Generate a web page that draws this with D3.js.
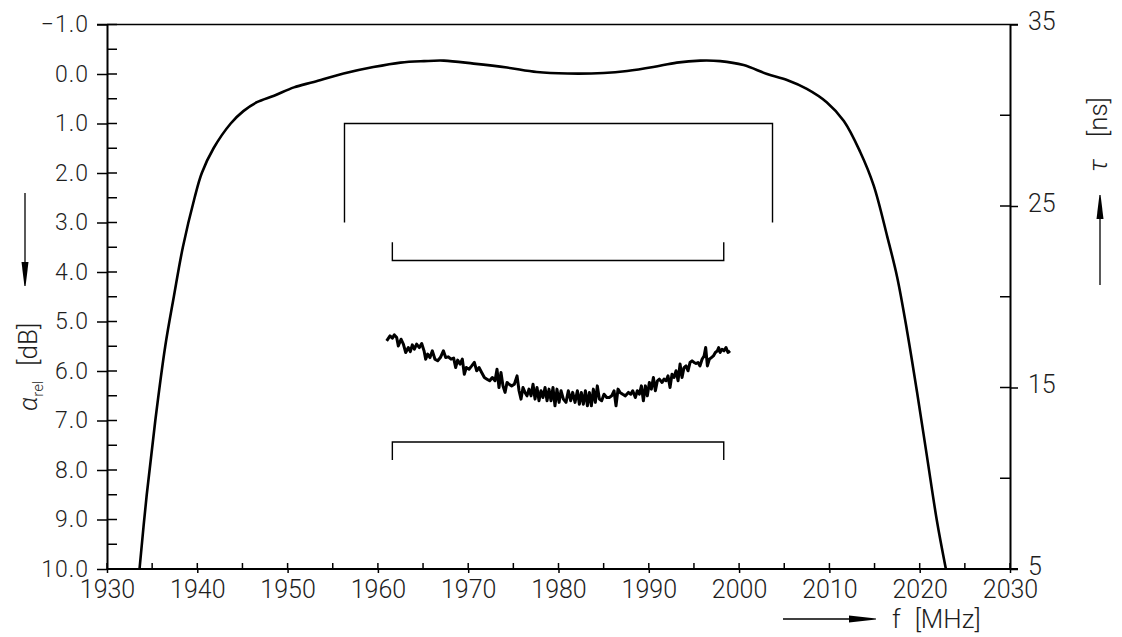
<!DOCTYPE html>
<html>
<head>
<meta charset="utf-8">
<script src="https://cdnjs.cloudflare.com/ajax/libs/d3/7.8.5/d3.min.js"></script>
<style>
  body { margin: 0; background: #fff; }
  svg text { font-family: Roboto, "Liberation Sans", sans-serif; font-weight: 300; fill: #1e1e1e; }
</style>
</head>
<body>
<svg id="chart"></svg>
<script>
// attenuation curve (left axis, dB, inverted)
var lossFreq = [1933.6, 1934.4, 1935.35, 1936.45, 1937.4, 1938.4, 1939.7, 1940.5, 1941.8, 1943.7,
    1945.1, 1946.6, 1948.5, 1950.7, 1952.9, 1956.2, 1959.5, 1962.5, 1965.1, 1967.3,
    1970.6, 1974.3, 1977.6, 1981.0, 1985.0, 1987.6, 1990.5, 1993.1, 1995.7, 1997.9,
    2000.5, 2003.1, 2005.3, 2007.5, 2009.7, 2011.6, 2013.4, 2014.9, 2016.4, 2017.5,
    2018.6, 2019.7, 2020.8, 2021.9, 2022.9];
var lossDb = [10.0, 8.5, 7.0, 5.5, 4.5, 3.5, 2.5, 2.0, 1.5, 1.0,
    0.75, 0.57, 0.44, 0.27, 0.16, -0.01, -0.14, -0.23, -0.26, -0.27,
    -0.21, -0.13, -0.04, -0.01, -0.02, -0.06, -0.14, -0.23, -0.27, -0.26,
    -0.18, 0.0, 0.12, 0.30, 0.57, 0.95, 1.57, 2.25, 3.28, 4.10,
    5.19, 6.42, 7.72, 9.02, 10.0];

// group delay curve (right axis, ns)
var delayFreq = [1960.97, 1961.34, 1961.60, 1961.82, 1962.08, 1962.26, 1962.56, 1962.82, 1963.08, 1963.37,
    1963.59, 1963.81, 1964.04, 1964.29, 1964.59, 1964.85, 1965.11, 1965.29, 1965.51, 1965.77,
    1966.03, 1966.32, 1966.62, 1966.92, 1967.25, 1967.51, 1967.80, 1968.10, 1968.39, 1968.61,
    1968.83, 1969.09, 1969.35, 1969.57, 1969.79, 1970.09, 1970.39, 1970.68, 1970.94, 1971.20,
    1971.49, 1971.79, 1972.08, 1972.38, 1972.67, 1972.97, 1973.19, 1973.41, 1973.63, 1973.85,
    1974.08, 1974.30, 1974.52, 1974.81, 1975.11, 1975.41, 1975.63, 1975.85, 1976.07, 1976.29,
    1976.51, 1976.73, 1976.96, 1977.18, 1977.40, 1977.62, 1977.84, 1978.06, 1978.28, 1978.51,
    1978.73, 1978.95, 1979.17, 1979.39, 1979.61, 1979.83, 1980.06, 1980.28, 1980.54, 1980.83,
    1981.09, 1981.35, 1981.57, 1981.83, 1982.09, 1982.31, 1982.53, 1982.75, 1982.98, 1983.20,
    1983.42, 1983.64, 1983.86, 1984.08, 1984.30, 1984.53, 1984.78, 1985.04, 1985.34, 1985.63,
    1985.89, 1986.15, 1986.37, 1986.59, 1986.81, 1987.11, 1987.41, 1987.74, 1988.00, 1988.22,
    1988.51, 1988.73, 1988.96, 1989.18, 1989.40, 1989.62, 1989.84, 1990.06, 1990.28, 1990.51,
    1990.73, 1990.95, 1991.17, 1991.47, 1991.69, 1991.91, 1992.13, 1992.35, 1992.57, 1992.79,
    1993.02, 1993.24, 1993.46, 1993.68, 1993.90, 1994.12, 1994.34, 1994.57, 1994.79, 1995.01,
    1995.23, 1995.45, 1995.67, 1995.90, 1996.12, 1996.30, 1996.49, 1996.71, 1996.93, 1997.15,
    1997.37, 1997.59, 1997.74, 1997.89, 1998.11, 1998.33, 1998.55, 1998.77, 1999.00];
var delayNs = [17.57, 17.84, 17.72, 17.90, 17.75, 17.29, 17.66, 17.39, 16.93, 17.20,
    16.98, 17.35, 17.11, 17.39, 17.20, 17.42, 17.02, 16.56, 16.84, 16.65,
    17.02, 16.56, 16.47, 16.65, 17.02, 16.65, 16.69, 16.56, 16.62, 16.10,
    16.51, 16.29, 16.56, 15.73, 16.10, 16.01, 16.19, 16.38, 15.92, 16.10,
    15.83, 15.55, 15.46, 15.37, 15.55, 15.37, 16.01, 15.00, 15.83, 15.09,
    14.73, 15.28, 15.18, 15.09, 15.18, 15.64, 14.82, 14.36, 15.00, 14.73,
    14.54, 14.91, 14.54, 15.18, 14.36, 15.00, 14.27, 14.82, 14.45, 15.00,
    14.27, 14.91, 14.27, 15.00, 13.99, 14.91, 14.18, 14.82, 14.36, 14.18,
    14.82, 14.27, 14.73, 14.18, 14.82, 14.08, 14.73, 14.08, 14.82, 13.99,
    14.73, 13.99, 14.91, 14.18, 15.09, 14.36, 14.27, 14.63, 14.45, 14.45,
    14.54, 14.82, 13.99, 14.91, 14.73, 14.63, 14.54, 14.73, 14.63, 14.82,
    14.45, 14.82, 14.63, 15.09, 14.27, 15.09, 14.54, 15.28, 14.91, 15.55,
    14.82, 15.37, 15.46, 15.28, 15.46, 15.37, 15.64, 15.00, 15.73, 15.55,
    15.92, 15.37, 16.29, 15.55, 16.10, 16.19, 15.92, 16.38, 16.47, 16.38,
    16.32, 16.38, 16.19, 16.56, 16.74, 17.20, 16.19, 16.56, 16.65, 16.74,
    16.93, 17.02, 17.20, 16.93, 17.11, 17.02, 17.20, 16.93, 17.02];

// tolerance brackets
var lossMaskFreq = [1956.3, 2003.7];
var lossMaskDb = [1.0, 3.0];        // line, leg end
var delayMaskFreq = [1961.6, 1998.3];
var delayUpperNs = [22, 23];        // line, leg end
var delayLowerNs = [12, 11];

// ticks
var freqTicks = [1930, 1940, 1950, 1960, 1970, 1980, 1990, 2000, 2010, 2020, 2030];
var freqMinor = [1935, 1945, 1955, 1965, 1975, 1985, 1995, 2005, 2015, 2025];
var lossTicks = [-1, 0, 1, 2, 3, 4, 5, 6, 7, 8, 9, 10];
var lossMinor = [-0.5, 0.5, 1.5, 2.5, 3.5, 4.5, 5.5, 6.5, 7.5, 8.5, 9.5];
var delayTicks = [5, 15, 25, 35];
var delayMinor = [10, 20, 30];

var width = 1122,
    height = 637;

var plotL = 107, plotR = 1010, plotT = 24.5, plotB = 569;

var x = d3.scaleLinear().domain([1930, 2030]).range([plotL, plotR]);
var yLoss = d3.scaleLinear().domain([-1, 10]).range([plotT, plotB]);
var yDelay = d3.scaleLinear().domain([5, 35]).range([plotB, plotT]);

var svg = d3.select("#chart")
    .attr("width", width)
    .attr("height", height);

svg.append("defs").append("clipPath")
    .attr("id", "plot")
    .append("rect")
    .attr("x", plotL).attr("y", plotT)
    .attr("width", plotR - plotL).attr("height", plotB - plotT);

// frame lines
svg.append("line")
    .attr("x1", plotL - 10).attr("x2", plotR + 8)
    .attr("y1", plotT).attr("y2", plotT)
    .attr("stroke", "#000").attr("stroke-width", 1.6);
svg.append("line")
    .attr("x1", plotL).attr("x2", plotR + 8)
    .attr("y1", plotB).attr("y2", plotB)
    .attr("stroke", "#000").attr("stroke-width", 2);

// left axis
var leftAxis = svg.append("g")
    .attr("transform", "translate(" + plotL + ",0)")
    .call(d3.axisLeft(yLoss)
        .tickValues(lossTicks)
        .tickSize(10)
        .tickSizeOuter(0)
        .tickPadding(8)
        .tickFormat(function(d) {
            return (d < 0 ? "\u2212" : "") + Math.abs(d).toFixed(1);
        }));
leftAxis.select(".domain").attr("stroke-width", 2);
leftAxis.selectAll(".tick line").attr("stroke-width", 1.5);
leftAxis.selectAll("text")
    .style("font-size", "23px").style("letter-spacing", "1px").style("font-family", null);

svg.append("g").selectAll("line")
    .data(lossTicks.concat(lossMinor))
    .enter().append("line")
    .attr("x1", plotL).attr("x2", plotL + 10)
    .attr("y1", function(d) { return yLoss(d); })
    .attr("y2", function(d) { return yLoss(d); })
    .attr("stroke", "#000").attr("stroke-width", 1.5);

// bottom axis
var bottomAxis = svg.append("g")
    .attr("transform", "translate(0," + plotB + ")")
    .call(d3.axisBottom(x)
        .tickValues(freqTicks)
        .tickSize(4)
        .tickSizeOuter(0)
        .tickPadding(7)
        .tickFormat(d3.format("d")));
bottomAxis.select(".domain").remove();
bottomAxis.selectAll(".tick line").attr("stroke-width", 1.5);
bottomAxis.selectAll("text").style("font-size", "25px").style("font-family", null);

svg.append("g").selectAll("line")
    .data(freqTicks.concat(freqMinor))
    .enter().append("line")
    .attr("x1", function(d) { return x(d); })
    .attr("x2", function(d) { return x(d); })
    .attr("y1", plotB - 6).attr("y2", plotB)
    .attr("stroke", "#000").attr("stroke-width", 1.5);

// right axis
var rightAxis = svg.append("g")
    .attr("transform", "translate(" + plotR + ",0)")
    .call(d3.axisRight(yDelay)
        .tickValues(delayTicks)
        .tickSize(8)
        .tickSizeOuter(0)
        .tickPadding(10)
        .tickFormat(d3.format("d")));
rightAxis.select(".domain").attr("stroke-width", 2);
rightAxis.selectAll(".tick line").attr("stroke-width", 1.5);
rightAxis.selectAll("text")
    .attr("y", -3)
    .style("font-size", "25px").style("font-family", null);

svg.append("g").selectAll("line")
    .data([15, 25].concat(delayMinor))
    .enter().append("line")
    .attr("x1", plotR - 10).attr("x2", plotR)
    .attr("y1", function(d) { return yDelay(d); })
    .attr("y2", function(d) { return yDelay(d); })
    .attr("stroke", "#000").attr("stroke-width", 1.5);

// tolerance brackets
var bracket = d3.line();
svg.append("path")
    .attr("d", bracket([
        [x(lossMaskFreq[0]), yLoss(lossMaskDb[1])],
        [x(lossMaskFreq[0]), yLoss(lossMaskDb[0])],
        [x(lossMaskFreq[1]), yLoss(lossMaskDb[0])],
        [x(lossMaskFreq[1]), yLoss(lossMaskDb[1])]]))
    .attr("fill", "none").attr("stroke", "#000").attr("stroke-width", 1.4);

[delayUpperNs, delayLowerNs].forEach(function(m) {
    svg.append("path")
        .attr("d", bracket([
            [x(delayMaskFreq[0]), yDelay(m[1])],
            [x(delayMaskFreq[0]), yDelay(m[0])],
            [x(delayMaskFreq[1]), yDelay(m[0])],
            [x(delayMaskFreq[1]), yDelay(m[1])]]))
        .attr("fill", "none").attr("stroke", "#000").attr("stroke-width", 1.4);
});

// curves
var lossLine = d3.line()
    .x(function(d, i) { return x(lossFreq[i]); })
    .y(function(d) { return yLoss(d); })
    .curve(d3.curveCatmullRom.alpha(0.5));

svg.append("path")
    .attr("clip-path", "url(#plot)")
    .attr("d", lossLine(lossDb))
    .attr("fill", "none").attr("stroke", "#000").attr("stroke-width", 2.6);

var delayLine = d3.line()
    .x(function(d, i) { return x(delayFreq[i]); })
    .y(function(d) { return yDelay(d); });

svg.append("path")
    .attr("d", delayLine(delayNs))
    .attr("fill", "none").attr("stroke", "#000").attr("stroke-width", 3)
    .attr("stroke-linejoin", "round");

// axis titles with arrows
var lt = svg.append("text")
    .attr("transform", "translate(37,411) rotate(-90)")
    .style("font-size", "26px");
lt.append("tspan").style("font-style", "italic").text("\u03b1");
lt.append("tspan").attr("dy", 6).style("font-size", "15px").text("rel");
lt.append("tspan").attr("dy", -6).attr("dx", 15).text("[dB]");

svg.append("line")
    .attr("x1", 25).attr("x2", 25).attr("y1", 193).attr("y2", 265)
    .attr("stroke", "#000").attr("stroke-width", 1.3);
svg.append("path")
    .attr("d", "M21.5,262L28.5,262L25.6,286L24.4,286Z")
    .attr("fill", "#000");

var rt = svg.append("text")
    .attr("transform", "translate(1107,172) rotate(-90)")
    .style("font-size", "26px");
rt.append("tspan").style("font-style", "italic").text("\u03c4");
rt.append("tspan").attr("dx", 22).text("[ns]");

svg.append("line")
    .attr("x1", 1100).attr("x2", 1100).attr("y1", 285).attr("y2", 215)
    .attr("stroke", "#000").attr("stroke-width", 1.3);
svg.append("path")
    .attr("d", "M1096.5,219L1103.5,219L1100.6,195L1099.4,195Z")
    .attr("fill", "#000");

var bt = svg.append("text")
    .attr("x", 892).attr("y", 628)
    .style("font-size", "26px");
bt.append("tspan").text("f");
bt.append("tspan").attr("dx", 14).text("[MHz]");

svg.append("line")
    .attr("x1", 783).attr("x2", 852).attr("y1", 619).attr("y2", 619)
    .attr("stroke", "#000").attr("stroke-width", 1.3);
svg.append("path")
    .attr("d", "M849,615.5L849,622.5L876,619.6L876,618.4Z")
    .attr("fill", "#000");
</script>
</body>
</html>
